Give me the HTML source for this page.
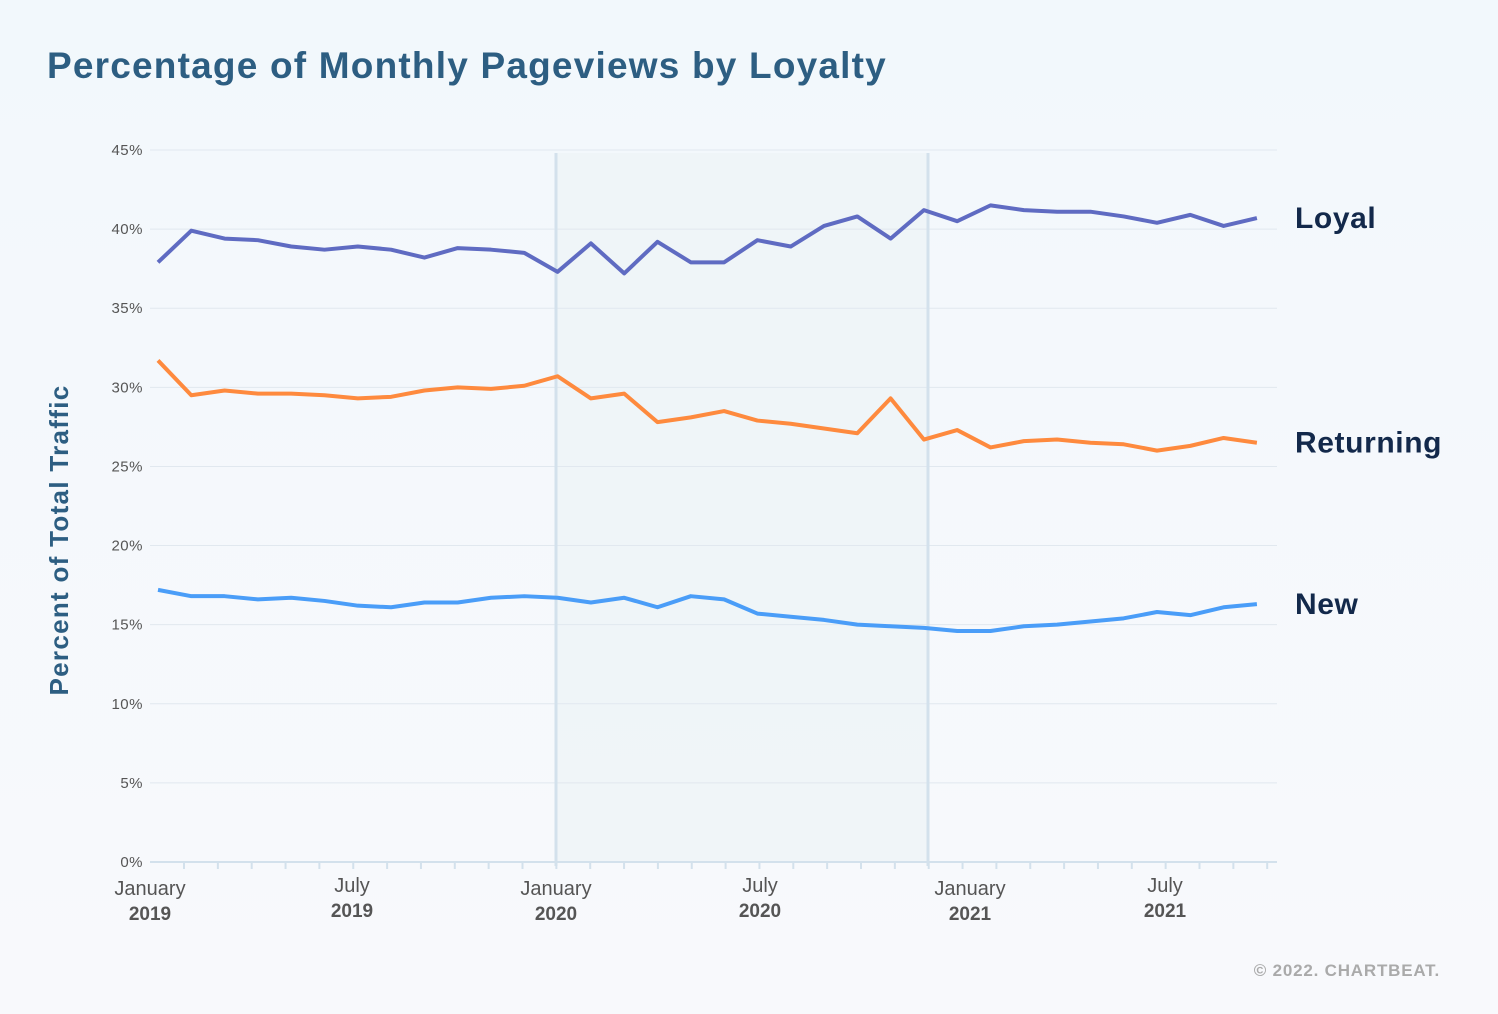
<!DOCTYPE html>
<html><head><meta charset="utf-8">
<style>
body{margin:0;width:1498px;height:1014px;overflow:hidden;background:linear-gradient(#f2f8fc,#f8f9fc);font-family:"Liberation Sans",sans-serif;}
</style></head>
<body>
<svg width="1498" height="1014" style="position:absolute;left:0;top:0">
<text x="47" y="78" font-size="37" font-weight="bold" letter-spacing="1.2" fill="#2d5e82">Percentage of Monthly Pageviews by Loyalty</text>
<text transform="translate(68,540) rotate(-90)" text-anchor="middle" font-size="26" font-weight="bold" letter-spacing="1.3" fill="#2d5e82">Percent of Total Traffic</text>
<text x="1440" y="976" text-anchor="end" font-size="17" font-weight="bold" letter-spacing="0.8" fill="#aaa">© 2022. CHARTBEAT.</text>
<g id="g"></g>
</svg>
<script>
const yTicks=[0,5,10,15,20,25,30,35,40,45];
const loyal=[37.9,39.9,39.4,39.3,38.9,38.7,38.9,38.7,38.2,38.8,38.7,38.5,37.3,39.1,37.2,39.2,37.9,37.9,39.3,38.9,40.2,40.8,39.4,41.2,40.5,41.5,41.2,41.1,41.1,40.8,40.4,40.9,40.2,40.7];
const returning=[31.7,29.5,29.8,29.6,29.6,29.5,29.3,29.4,29.8,30.0,29.9,30.1,30.7,29.3,29.6,27.8,28.1,28.5,27.9,27.7,27.4,27.1,29.3,26.7,27.3,26.2,26.6,26.7,26.5,26.4,26.0,26.3,26.8,26.5];
const newer=[17.2,16.8,16.8,16.6,16.7,16.5,16.2,16.1,16.4,16.4,16.7,16.8,16.7,16.4,16.7,16.1,16.8,16.6,15.7,15.5,15.3,15.0,14.9,14.8,14.6,14.6,14.9,15.0,15.2,15.4,15.8,15.6,16.1,16.3];
const seriesNames=["Loyal","Returning","New"];
const xLabels=[["January","2019",0],["July","2019",6],["January","2020",12],["July","2020",18],["January","2021",24],["July","2021",30]];
const ns="http://www.w3.org/2000/svg",g=document.getElementById('g');
const y=v=>862-v*(712/45), x=i=>158+i*33.3;
function mk(t,a,p){const e=document.createElementNS(ns,t);for(const k in a)e.setAttribute(k,a[k]);(p||g).appendChild(e);return e;}
const sh=mk('rect',{x:556,y:153,width:372,height:709,fill:'#eef4f6',opacity:0.8});


yTicks.forEach(v=>{
 const l=mk('line',{x1:150,x2:1277,y1:y(v),y2:y(v),stroke:v?'#e1e8ef':'#d3e1ec','stroke-width':v?1:2});
 
 
 const t=mk('text',{x:143,y:y(v)+5,'text-anchor':'end','font-size':15,'letter-spacing':0.5,fill:'#555'});
 t.textContent=v+'%';
 
 
});
[556,928].forEach(xx=>{const l=mk('line',{x1:xx,x2:xx,y1:153,y2:866,stroke:'#d3e1ec','stroke-width':3});
 
 });
for(let k=0;k<33;k++){const l=mk('line',{x1:184+k*33.85,x2:184+k*33.85,y1:862,y2:869,stroke:'#d3e1ec','stroke-width':2});
 
 }
const lxp=[150,352,556,760,970,1165];
xLabels.forEach((L,i)=>{
 const a=mk('text',{x:lxp[i],y:L[0]=='July'?892:895,'text-anchor':'middle','font-size':20,fill:'#555'});a.textContent=L[0];
 
 
 const b=mk('text',{x:lxp[i],y:L[0]=='July'?917:920,'text-anchor':'middle','font-size':19,'font-weight':'bold',fill:'#555'});b.textContent=L[1];
 
 
});
[[loyal,'#5f6bc2'],[returning,'#fe8a3e'],[newer,'#4a9df8']].forEach((s,si)=>{
 const p=mk('polyline',{points:s[0].map((v,i)=>x(i)+','+y(v)).join(' '),fill:'none',stroke:s[1],'stroke-width':4,'stroke-linejoin':'round'});
 
 
 const t=mk('text',{x:1295,y:y(s[0][s[0].length-1])+10,'font-size':30,'font-weight':'bold','letter-spacing':0.6,fill:'#13294b'});
 t.textContent=seriesNames[si];
 
 
});
</script>
</body></html>
